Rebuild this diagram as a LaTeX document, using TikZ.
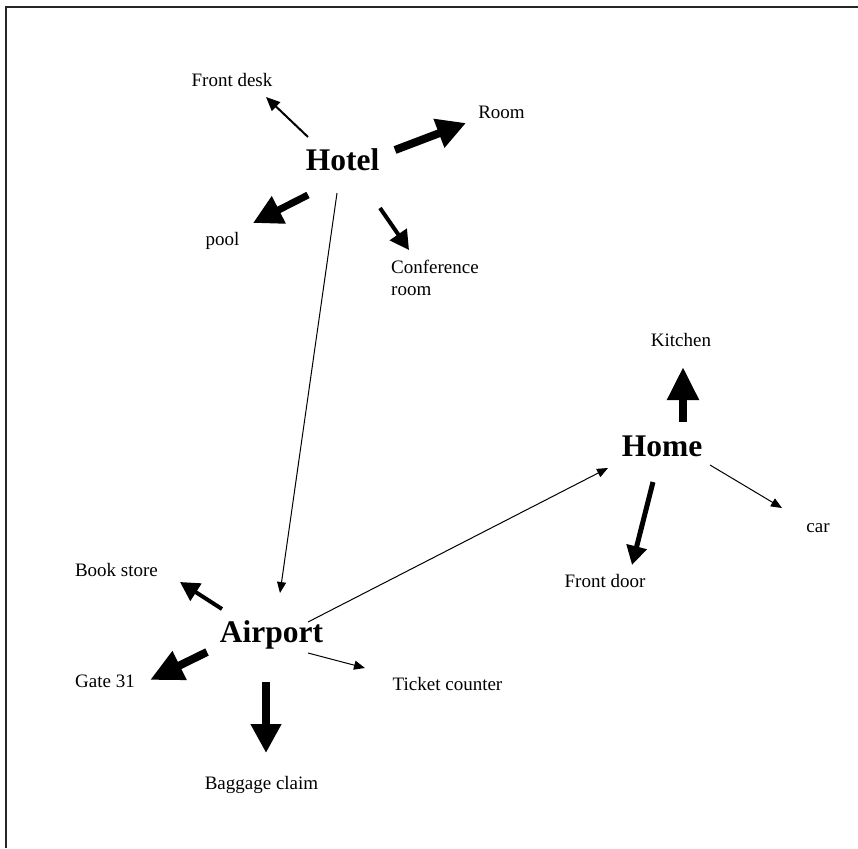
\documentclass[tikz,border=0pt]{standalone}
\usepackage{fontspec}
\setmainfont{Liberation Serif}
\usetikzlibrary{arrows.meta,calc}
\tikzset{
  lbl/.style={inner sep=0pt, font=\fontsize{19}{22}\selectfont},
  ttl/.style={inner sep=0pt, font=\fontsize{31.5}{36}\selectfont\bfseries},
  thinarr/.style={line width=1pt, -{Triangle[width=9pt,length=11pt]}},
  slimarr/.style={line width=2pt, -{Triangle[width=12pt,length=14pt]}},
  medarr/.style={line width=4pt, -{Triangle[width=20pt,length=19pt]}},
  bigarr/.style={line width=8pt, -{Triangle[width=29pt,length=29pt]}},
  frame/.style={line width=1.5pt, draw=black!85}
}
\begin{document}
\begin{tikzpicture}[x=1pt,y=-1pt]
\useasboundingbox (0,0) rectangle (858,848);
\draw[frame] (6,848) -- (6,7) -- (858,7);

\node[ttl] (hotel) at (342.5,160) {Hotel};
\node[lbl] (frontdesk) at (232,80) {Front desk};
\node[lbl] (room) at (501.5,112) {Room};
\node[lbl] (pool) at (222.5,241) {pool};
\node[lbl, align=left] (conf) at (435,278) {Conference\\room};

\node[ttl] (home) at (662,446) {Home};
\node[lbl] (kitchen) at (681,340) {Kitchen};
\node[lbl] (frontdoor) at (605,581) {Front door};
\node[lbl] (car) at (818,528.5) {car};

\node[ttl] (airport) at (271.5,635) {Airport};
\node[lbl] (bookstore) at (116.5,570) {Book store};
\node[lbl] (gate) at (105,681.5) {Gate 31};
\node[lbl] (ticket) at (447.5,683.5) {Ticket counter};
\node[lbl] (baggage) at (261.5,785) {Baggage claim};

% Hotel
\draw[slimarr] ($(hotel)+(-34.5,-23)$) -- ($(frontdesk)+(34,17)$);
\draw[bigarr] ($(hotel)+(52.5,-10)$) -- ($(room)+(-35.5,11)$);
\draw[bigarr, line width=7pt] ($(hotel)+(-34.5,35)$) -- ($(pool)+(30.5,-18)$);
\draw[medarr] ($(hotel)+(37.5,48)$) -- ($(conf)+(-26,-28)$);
\draw[thinarr] ($(hotel)+(-5.5,33)$) -- ($(airport)+(8.5,-42)$);

% Airport
\draw[thinarr] ($(airport)+(36.5,-13)$) -- ($(home)+(-54,22)$);
\draw[medarr] ($(airport)+(-49.5,-26)$) -- ($(bookstore)+(63.5,12)$);
\draw[bigarr, -{Triangle[width=30pt,length=33pt]}] ($(airport)+(-64.5,17)$) -- ($(gate)+(45,-1.5)$);
\draw[bigarr] ($(airport)+(-5.5,47)$) -- ($(baggage)+(4.5,-32)$);
\draw[thinarr] ($(airport)+(36.5,18)$) -- ($(ticket)+(-82.5,-15.5)$);

% Home
\draw[bigarr, -{Triangle[width=30pt,length=33pt]}] ($(home)+(21,-24)$) -- ($(kitchen)+(2,27)$);
\draw[medarr, line width=5pt] ($(home)+(-9,36)$) -- ($(frontdoor)+(27,-16)$);
\draw[thinarr] ($(home)+(48,19)$) -- ($(car)+(-36,-20.5)$);
\end{tikzpicture}
\end{document}
